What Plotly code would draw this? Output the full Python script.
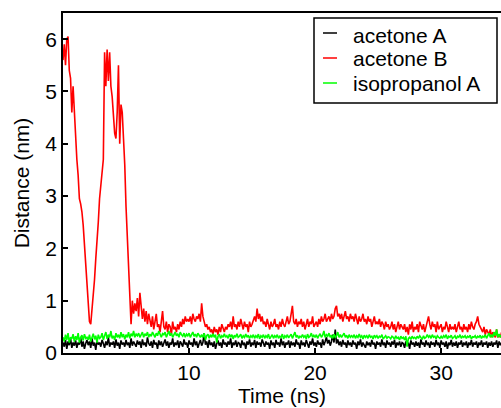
import plotly.graph_objects as go

acetone_B = [
    5.6, 5.9, 5.5, 6.0, 6.05, 5.4, 5.25, 4.6, 5.1, 4.55,
    4.3, 3.7, 3.4, 2.95, 2.85, 2.7, 2.45, 2.1, 1.8, 1.45,
    0.95, 0.6, 0.55, 0.8, 1.05, 1.4, 1.8, 2.1, 2.5, 2.95,
    3.2, 3.5, 3.7, 5.75, 5.1, 5.8, 5.2, 5.75, 5.1, 4.9,
    4.5, 4.2, 4.1, 4.6, 5.5, 4.0, 4.75, 4.6, 4.1, 3.6,
    2.8, 2.2, 1.5, 0.9, 0.55, 1.0, 0.75, 0.95, 0.8, 1.05,
    0.7, 1.15, 0.9, 0.65, 0.85, 0.6, 0.8, 0.55, 0.75, 0.6,
    0.5, 0.7, 0.45, 0.6, 0.75, 0.5, 0.55, 0.4, 0.6, 0.8,
    0.5, 0.45, 0.6, 0.4, 0.55, 0.5, 0.35, 0.6, 0.45, 0.5,
    0.4, 0.55, 0.45, 0.6, 0.5, 0.65, 0.55, 0.7, 0.6, 0.65,
    0.6, 0.7, 0.55, 0.75, 0.65, 0.6, 0.7, 0.65, 0.75, 0.6,
    0.95, 0.7, 0.6, 0.5, 0.55, 0.45, 0.5, 0.4, 0.45, 0.35,
    0.5, 0.4, 0.45, 0.35, 0.5, 0.4, 0.55, 0.45, 0.4, 0.5,
    0.45, 0.55, 0.5, 0.6, 0.45, 0.7, 0.5, 0.55, 0.45, 0.6,
    0.5, 0.65, 0.55, 0.45, 0.6, 0.5, 0.55, 0.4, 0.6, 0.5,
    0.55, 0.65, 0.7, 0.6, 0.85, 0.65, 0.75, 0.6, 0.7, 0.55,
    0.6, 0.5, 0.65, 0.55, 0.45, 0.6, 0.5, 0.55, 0.65, 0.5,
    0.55, 0.45, 0.6, 0.5, 0.65, 0.55, 0.5, 0.6, 0.7, 0.55,
    0.6, 0.75, 0.9, 0.6, 0.55, 0.65, 0.5, 0.6, 0.55, 0.65,
    0.5, 0.6, 0.45, 0.55, 0.65, 0.5, 0.6, 0.55, 0.7, 0.5,
    0.55, 0.6, 0.5, 0.65, 0.55, 0.7, 0.6, 0.65, 0.75, 0.6,
    0.65, 0.7, 0.6, 0.75, 0.65, 0.7, 0.85, 0.9, 0.7, 0.75,
    0.65, 0.75, 0.6, 0.7, 0.8, 0.65, 0.7, 0.6, 0.75, 0.65,
    0.7, 0.6, 0.75, 0.65, 0.55, 0.7, 0.6, 0.65, 0.75, 0.6,
    0.65, 0.55, 0.7, 0.6, 0.65, 0.5, 0.6, 0.7, 0.55, 0.6,
    0.55, 0.65, 0.5, 0.6, 0.55, 0.45, 0.6, 0.5, 0.55, 0.45,
    0.5, 0.6, 0.45, 0.55, 0.4, 0.5, 0.6, 0.45, 0.55, 0.5,
    0.45, 0.55, 0.4, 0.5, 0.35, 0.55, 0.45, 0.6, 0.4, 0.5,
    0.45, 0.55, 0.4, 0.6, 0.5, 0.45, 0.55, 0.4, 0.5, 0.6,
    0.7, 0.55, 0.45, 0.6, 0.5, 0.55, 0.4, 0.6, 0.45, 0.5,
    0.55, 0.4, 0.5, 0.45, 0.6, 0.5, 0.4, 0.55, 0.45, 0.5,
    0.45, 0.55, 0.4, 0.5, 0.6, 0.45, 0.5, 0.4, 0.55, 0.45,
    0.5, 0.4, 0.55, 0.45, 0.6, 0.5, 0.45, 0.55, 0.6, 0.7,
    0.55, 0.5, 0.45, 0.4, 0.5, 0.35, 0.45, 0.4, 0.35, 0.45,
    0.3, 0.4, 0.35, 0.3, 0.45, 0.3, 0.35, 0.3, 0.4,
]

isopropanol_A = [
    0.3, 0.22, 0.35, 0.25, 0.38, 0.2, 0.3, 0.27, 0.36, 0.22,
    0.32, 0.25, 0.38, 0.2, 0.3, 0.34, 0.24, 0.36, 0.28, 0.3,
    0.25, 0.35, 0.22, 0.3, 0.37, 0.26, 0.33, 0.2, 0.35, 0.28,
    0.3, 0.38, 0.25, 0.33, 0.4, 0.27, 0.35, 0.3, 0.42, 0.28,
    0.33, 0.25, 0.38, 0.3, 0.35, 0.28, 0.4, 0.3, 0.36, 0.26,
    0.35, 0.3, 0.4, 0.28, 0.37, 0.32, 0.42, 0.3, 0.36, 0.33,
    0.38, 0.3, 0.35, 0.4, 0.3, 0.37, 0.33, 0.4, 0.3, 0.36,
    0.32, 0.4, 0.35, 0.3, 0.38, 0.33, 0.42, 0.35, 0.3, 0.37,
    0.35, 0.4, 0.3, 0.36, 0.42, 0.33, 0.38, 0.3, 0.35, 0.4,
    0.33, 0.37, 0.3, 0.4, 0.35, 0.32, 0.38, 0.3, 0.36, 0.33,
    0.38, 0.3, 0.35, 0.4, 0.32, 0.36, 0.3, 0.38, 0.34, 0.3,
    0.35, 0.3, 0.38, 0.25, 0.33, 0.36, 0.28, 0.35, 0.3, 0.37,
    0.3, 0.35, 0.2, 0.32, 0.36, 0.28, 0.33, 0.3, 0.37, 0.3,
    0.33, 0.28, 0.36, 0.3, 0.35, 0.27, 0.34, 0.3, 0.37, 0.3,
    0.32, 0.36, 0.28, 0.33, 0.3, 0.36, 0.3, 0.34, 0.28, 0.33,
    0.3, 0.35, 0.28, 0.33, 0.3, 0.36, 0.27, 0.33, 0.3, 0.35,
    0.28, 0.33, 0.3, 0.36, 0.27, 0.32, 0.35, 0.28, 0.33, 0.3,
    0.35, 0.28, 0.32, 0.3, 0.36, 0.27, 0.33, 0.3, 0.35, 0.29,
    0.32, 0.36, 0.28, 0.33, 0.4, 0.3, 0.34, 0.28, 0.32, 0.3,
    0.35, 0.3, 0.33, 0.27, 0.36, 0.3, 0.32, 0.38, 0.3, 0.34,
    0.3, 0.35, 0.28, 0.33, 0.37, 0.3, 0.34, 0.42, 0.3, 0.35,
    0.32, 0.38, 0.3, 0.34, 0.28, 0.36, 0.3, 0.33, 0.4, 0.3,
    0.35, 0.3, 0.33, 0.38, 0.3, 0.34, 0.28, 0.35, 0.3, 0.33,
    0.3, 0.35, 0.28, 0.33, 0.3, 0.36, 0.3, 0.33, 0.27, 0.34,
    0.3, 0.33, 0.28, 0.35, 0.3, 0.32, 0.27, 0.34, 0.3, 0.33,
    0.28, 0.32, 0.3, 0.35, 0.27, 0.3, 0.33, 0.28, 0.31, 0.3,
    0.27, 0.32, 0.3, 0.26, 0.33, 0.28, 0.3, 0.25, 0.32, 0.28,
    0.3, 0.25, 0.32, 0.12, 0.28, 0.3, 0.26, 0.32, 0.28, 0.3,
    0.27, 0.32, 0.28, 0.33, 0.3, 0.26, 0.33, 0.28, 0.3, 0.35,
    0.3, 0.33, 0.28, 0.35, 0.3, 0.32, 0.27, 0.33, 0.3, 0.28,
    0.32, 0.28, 0.33, 0.3, 0.35, 0.27, 0.32, 0.3, 0.34, 0.28,
    0.3, 0.33, 0.27, 0.32, 0.3, 0.35, 0.28, 0.32, 0.3, 0.33,
    0.28, 0.32, 0.3, 0.34, 0.27, 0.31, 0.3, 0.33, 0.28, 0.32,
    0.3, 0.34, 0.28, 0.32, 0.3, 0.35, 0.28, 0.33, 0.38, 0.3,
    0.35, 0.3, 0.4, 0.33, 0.45, 0.3, 0.36, 0.3, 0.35,
]

acetone_A = [
    0.2, 0.12, 0.25, 0.08, 0.22, 0.15, 0.28, 0.1, 0.2, 0.14,
    0.24, 0.1, 0.2, 0.16, 0.3, 0.12, 0.22, 0.08, 0.18, 0.25,
    0.15, 0.22, 0.1, 0.28, 0.14, 0.2, 0.06, 0.24, 0.16, 0.2,
    0.12, 0.25, 0.18, 0.1, 0.22, 0.15, 0.3, 0.12, 0.2, 0.16,
    0.22, 0.1, 0.26, 0.14, 0.2, 0.08, 0.24, 0.16, 0.2, 0.12,
    0.25, 0.15, 0.2, 0.1, 0.28, 0.14, 0.22, 0.18, 0.12, 0.24,
    0.16, 0.22, 0.1, 0.26, 0.15, 0.2, 0.12, 0.3, 0.18, 0.14,
    0.22, 0.1, 0.25, 0.16, 0.2, 0.08, 0.24, 0.15, 0.22, 0.12,
    0.2, 0.26, 0.14, 0.22, 0.1, 0.2, 0.16, 0.28, 0.12, 0.2,
    0.15, 0.24, 0.1, 0.22, 0.18, 0.12, 0.26, 0.16, 0.2, 0.1,
    0.24, 0.16, 0.2, 0.12, 0.28, 0.15, 0.22, 0.1, 0.18, 0.25,
    0.14, 0.2, 0.38, 0.16, 0.22, 0.1, 0.25, 0.15, 0.2, 0.12,
    0.22, 0.08, 0.18, 0.24, 0.14, 0.2, 0.1, 0.26, 0.16, 0.2,
    0.12, 0.22, 0.16, 0.28, 0.1, 0.2, 0.15, 0.24, 0.12, 0.2,
    0.18, 0.1, 0.24, 0.15, 0.2, 0.08, 0.22, 0.16, 0.26, 0.12,
    0.2, 0.15, 0.25, 0.1, 0.22, 0.16, 0.2, 0.12, 0.26, 0.18,
    0.12, 0.22, 0.16, 0.2, 0.08, 0.24, 0.15, 0.2, 0.1, 0.25,
    0.16, 0.2, 0.12, 0.28, 0.15, 0.22, 0.1, 0.2, 0.16, 0.24,
    0.1, 0.22, 0.15, 0.2, 0.12, 0.26, 0.16, 0.2, 0.08, 0.24,
    0.15, 0.2, 0.12, 0.25, 0.18, 0.1, 0.22, 0.16, 0.28, 0.14,
    0.2, 0.12, 0.24, 0.16, 0.2, 0.1, 0.26, 0.15, 0.22, 0.3,
    0.18, 0.25, 0.14, 0.22, 0.35, 0.2, 0.45, 0.18, 0.26, 0.15,
    0.22, 0.12, 0.25, 0.16, 0.2, 0.1, 0.24, 0.15, 0.2, 0.12,
    0.24, 0.16, 0.2, 0.08, 0.22, 0.15, 0.26, 0.12, 0.2, 0.16,
    0.1, 0.22, 0.15, 0.2, 0.12, 0.25, 0.16, 0.2, 0.08, 0.22,
    0.16, 0.2, 0.12, 0.26, 0.15, 0.2, 0.1, 0.24, 0.16, 0.2,
    0.12, 0.22, 0.16, 0.25, 0.1, 0.2, 0.15, 0.22, 0.12, 0.2,
    0.18, 0.1, 0.22, 0.15, 0.2, 0.08, 0.24, 0.16, 0.2, 0.12,
    0.22, 0.14, 0.2, 0.1, 0.26, 0.16, 0.2, 0.12, 0.24, 0.15,
    0.2, 0.1, 0.22, 0.16, 0.2, 0.12, 0.25, 0.15, 0.2, 0.1,
    0.24, 0.16, 0.2, 0.12, 0.22, 0.08, 0.2, 0.15, 0.25, 0.12,
    0.2, 0.14, 0.22, 0.1, 0.2, 0.16, 0.24, 0.12, 0.2, 0.15,
    0.22, 0.1, 0.2, 0.15, 0.25, 0.12, 0.2, 0.16, 0.22, 0.1,
    0.2, 0.15, 0.24, 0.12, 0.2, 0.16, 0.22, 0.1, 0.2, 0.14,
    0.22, 0.12, 0.2, 0.16, 0.24, 0.1, 0.22, 0.15, 0.2,
]

# sampling grid of the trajectory: one frame every 0.1 ns
time_ns = [round(0.1 * i, 1) for i in range(len(acetone_B))]

series_names = ["acetone A", "acetone B", "isopropanol A"]
series_values = [acetone_A, acetone_B, isopropanol_A]
series_colors = ["#000000", "#ff0000", "#00ff00"]

x_ticks = [10, 20, 30]
y_ticks = [0, 1, 2, 3, 4, 5, 6]

FONT = "Liberation Sans, Arial, Helvetica, sans-serif"

W, H = 501, 408
L, R, T, B = 63, 501, 13, 353   # plot-area edges in pixels

fig = go.Figure()
for name, vals, col in zip(series_names, series_values, series_colors):
    fig.add_trace(go.Scatter(x=time_ns, y=vals, mode="lines", name=name,
                             line=dict(color=col, width=1.6), showlegend=False))

def px(x):
    return (x - L) / (R - L)
def py(y):
    return (B - y) / (B - T)

shapes = [dict(type="rect", xref="paper", yref="paper",
               x0=px(314), x1=px(497), y0=py(103), y1=py(18),
               line=dict(color="black", width=1.5), fillcolor="white", layer="above")]
annotations = []
row_line_y = [33, 58, 83]
row_text_y = [35, 59, 83]
for name, col, ly, ty in zip(series_names, series_colors, row_line_y, row_text_y):
    shapes.append(dict(type="line", xref="paper", yref="paper",
                       x0=px(323), x1=px(337), y0=py(ly), y1=py(ly),
                       line=dict(color=col, width=1.5), layer="above"))
    annotations.append(dict(text=name, xref="paper", yref="paper",
                            x=px(351), y=py(ty), xanchor="left", yanchor="middle",
                            showarrow=False, font=dict(size=21, color="black", family=FONT)))

fig.update_layout(
    width=W, height=H,
    margin=dict(l=L, r=W - R, t=T, b=H - B, autoexpand=False),
    paper_bgcolor="white", plot_bgcolor="white",
    font=dict(family=FONT, size=21, color="black"),
    shapes=shapes, annotations=annotations,
    showlegend=False,
)
fig.update_xaxes(range=[0, 34.75], tickvals=x_ticks, ticks="inside", ticklen=5,
                 tickwidth=1.5, tickcolor="black", automargin=False,
                 showline=True, linecolor="black", linewidth=1.5, mirror=True,
                 showgrid=False, zeroline=False,
                 title=dict(text="Time (ns)", standoff=4, font=dict(size=21)))
fig.update_yaxes(range=[0, 6.5], tickvals=y_ticks, ticks="inside", ticklen=5,
                 tickwidth=1.5, tickcolor="black", automargin=False,
                 showline=True, linecolor="black", linewidth=1.5, mirror=False,
                 showgrid=False, zeroline=False,
                 title=dict(text="Distance (nm)", standoff=10, font=dict(size=21)))

# remove the browser's default 8 px page margin so the figure fills the window
fig.write_html("out.html",
               config={"displayModeBar": False},
               post_script="document.body.style.margin='0';document.body.style.overflow='hidden';")
